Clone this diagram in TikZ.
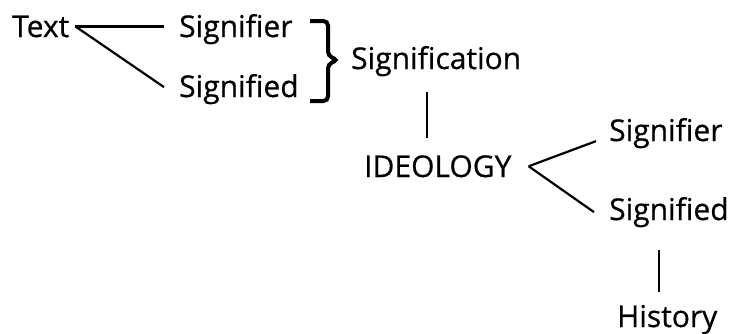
\documentclass[tikz,border=0pt]{standalone}
\usepackage{fontspec}
\setmainfont{Open Sans}
\newfontfamily\lblfont{Open Sans}[FakeBold=0.6]
\usetikzlibrary{calc}
\begin{document}
\begin{tikzpicture}[x=1pt,y=-1pt,
  lbl/.style={anchor=base west,inner sep=0pt,font=\lblfont\fontsize{30}{34}\selectfont},
  con/.style={draw,line width=2.2pt}]
\useasboundingbox (0,0) rectangle (732,333);
\node[lbl] (txt) at (12,37) {Text};
\node[lbl] (sr1) at (179,37) {Signifier};
\node[lbl] (sd1) at (179,97) {Signified};
\node[lbl] (sgn) at (351,69) {Signification};
\node[lbl] (ideo) at (364,177) {IDEOLOGY};
\node[lbl] (sr2) at (609,141) {Signifier};
\node[lbl] (sd2) at (609,220) {Signified};
\node[lbl] (his) at (617,327) {History};
% branches from Text
\coordinate (tb) at ([xshift=6pt]txt.east);
\draw[con] (tb) -- ([xshift=-15pt]sr1.west |- tb);
\draw[con] (tb) -- ([xshift=-15pt,yshift=2pt]sd1.west);
% brace
\coordinate (bt) at (310,21);
\draw[line width=4pt,rounded corners=4.5pt] (bt) -- ++(18,0) -- ++(0,35) -- ++(10,4) -- ++(-10,4) -- ++(0,37) -- ++(-18,0);
% Signification -- IDEOLOGY
\draw[con] ([yshift=-16pt]sgn.south -| 427,0) -- ([yshift=17pt]ideo.north -| 427,0);
% branches from IDEOLOGY
\coordinate (ib) at ([xshift=17pt]ideo.east);
\draw[con] (ib) -- ([xshift=-13pt,yshift=-8pt]sr2.west);
\draw[con] (ib) -- ([xshift=-15pt]sd2.west);
% Signified -- History
\draw[con] ([yshift=-23pt]sd2.south -| 659,0) -- ([yshift=13pt]his.north -| 659,0);
\end{tikzpicture}
\end{document}
